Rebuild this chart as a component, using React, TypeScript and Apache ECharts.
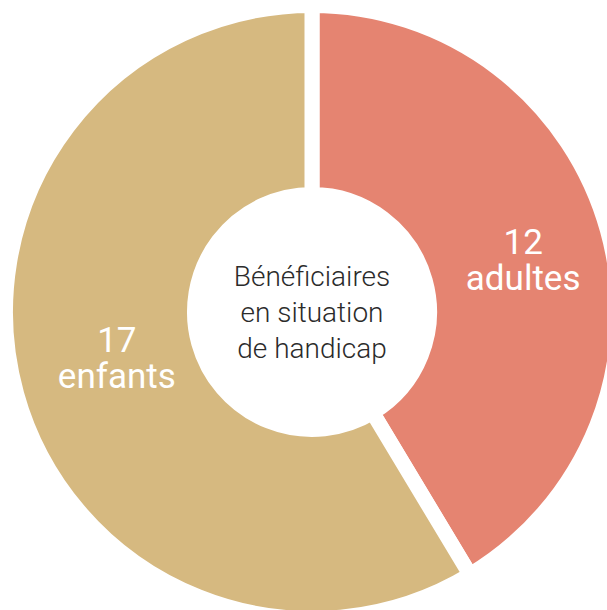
import React, { useEffect, useRef } from "react";
import * as echarts from "echarts";

const categories = ["adultes", "enfants"];
const values = [12, 17];
const colors = ["#E58471", "#D6B980"];
const centerLines = ["Bénéficiaires", "en situation", "de handicap"];
const labelShift = [
  [4, 6],
  [12, -11],
];

export default function App() {
  const ref = useRef<HTMLDivElement>(null);
  useEffect(() => {
    const chart = echarts.init(ref.current!, null, { renderer: "svg" });
    chart.setOption({
      animation: false,
      backgroundColor: "#ffffff",
      graphic: [
        {
          type: "text",
          x: 312,
          y: 312,
          style: {
            text: centerLines.join("\n"),
            fontFamily: "Roboto",
            fontSize: 28,
            fontWeight: 300,
            lineHeight: 36,
            fill: "#2b2b2b",
            align: "center",
            verticalAlign: "middle",
          },
        },
      ],
      series: [
        {
          type: "pie",
          center: [312, 312],
          radius: [117.5, 306.5],
          startAngle: 90,
          clockwise: true,
          silent: true,
          itemStyle: { borderColor: "#ffffff", borderWidth: 15 },
          label: {
            show: true,
            position: "inside",
            formatter: (p: any) => `${p.value}\n${p.name}`,
            color: "#ffffff",
            fontFamily: "Roboto",
            fontSize: 35,
            fontWeight: 400,
            lineHeight: 36,
            align: "center",
          },
          labelLine: { show: false },
          labelLayout: (p: any) => ({
            dx: labelShift[p.dataIndex][0],
            dy: labelShift[p.dataIndex][1],
          }),
          data: categories.map((c, i) => ({
            name: c,
            value: values[i],
            itemStyle: { color: colors[i] },
          })),
        },
      ],
    });
    return () => chart.dispose();
  }, []);
  return (
    <div
      ref={ref}
      style={{ position: "fixed", left: 0, top: 0, width: 607, height: 610 }}
    />
  );
}
